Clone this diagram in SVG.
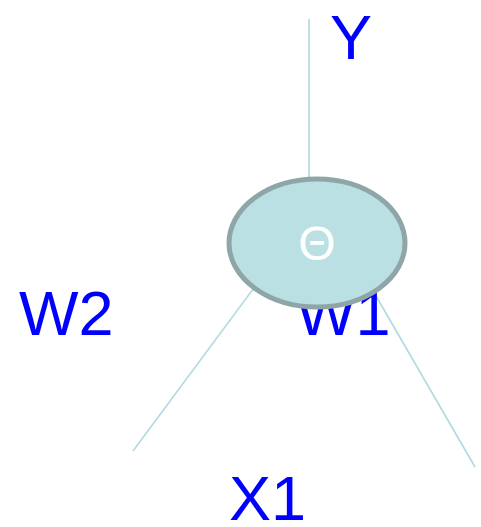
<svg xmlns="http://www.w3.org/2000/svg" width="481" height="527" viewBox="0 0 481 527">
  <style>
    .edge { stroke: #b3dce0; stroke-width: 1.7; fill: none; }
    .label { font-family: "Liberation Sans", Arial, sans-serif; font-size: 63px; fill: #0000ff; }
    .node ellipse { fill: #bbe0e3; stroke: #8fa6a8; stroke-width: 5; }
    .node text { font-family: "Liberation Sans", Arial, sans-serif; font-size: 48px; fill: #ffffff; text-anchor: middle; }
  </style>
  <rect width="481" height="527" fill="#ffffff"/>
  <!-- connectors -->
  <g id="edges">
    <line class="edge" x1="309" y1="19" x2="309" y2="190"/>
    <line class="edge" x1="262" y1="277" x2="133" y2="451"/>
    <line class="edge" x1="365" y1="277" x2="475" y2="467"/>
  </g>
  <!-- labels -->
  <g id="labels">
    <text class="label" x="330" y="59">Y</text>
    <text class="label" x="19" y="335">W2</text>
    <text class="label" x="296" y="335">W1</text>
    <text class="label" x="229" y="520">X1</text>
  </g>
  <!-- central node -->
  <g id="theta" class="node">
    <ellipse cx="317" cy="243" rx="88" ry="64"/>
    <text x="317" y="260">Θ</text>
  </g>
</svg>
